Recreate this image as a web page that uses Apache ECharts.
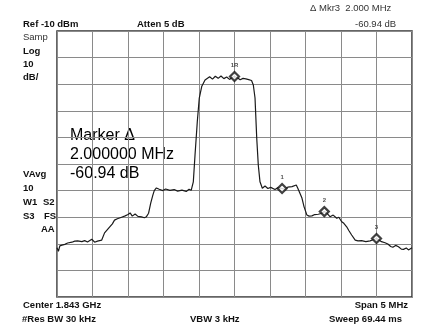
<!DOCTYPE html>
<html>
<head>
<meta charset="utf-8">
<script src="https://cdn.jsdelivr.net/npm/echarts@6/dist/echarts.min.js"></script>
<style>
  html, body { margin: 0; padding: 0; background: #fff; }
  #chart { width: 442px; height: 331px; }
</style>
</head>
<body>
<div id="chart"></div>
<script>
// trace: offset from centre 1.843 GHz (MHz) and level (dBm)
var freqOffset = [
  -2.50, -2.48, -2.46, -2.43, -2.39, -2.35, -2.29, -2.25, -2.21, -2.15,
  -2.11, -2.07, -2.01, -1.97, -1.93, -1.87, -1.83, -1.76, -1.72, -1.69,
  -1.65, -1.63, -1.59, -1.54, -1.50, -1.47, -1.44, -1.40, -1.36, -1.31,
  -1.27, -1.24, -1.21, -1.18, -1.15, -1.13, -1.10, -1.06, -1.01, -0.97,
  -0.91, -0.85, -0.80, -0.74, -0.68, -0.64, -0.61, -0.58, -0.556, -0.524,
  -0.496, -0.462, -0.415, -0.39, -0.35, -0.31, -0.27, -0.23, -0.19, -0.15,
  -0.11, -0.07, -0.03, 0.00, 0.04, 0.08, 0.12, 0.16, 0.20, 0.24,
  0.265, 0.289, 0.313, 0.335, 0.359, 0.392, 0.43, 0.47, 0.51, 0.57,
  0.61, 0.67, 0.71, 0.75, 0.81, 0.87, 0.89, 0.92, 0.95, 0.98,
  1.02, 1.05, 1.09, 1.13, 1.18, 1.22, 1.265, 1.30, 1.345, 1.39,
  1.44, 1.47, 1.51, 1.54, 1.58, 1.61, 1.65, 1.70, 1.74, 1.79,
  1.85, 1.91, 1.95, 2.00, 2.04, 2.07, 2.12, 2.16, 2.20, 2.23,
  2.27, 2.31, 2.35, 2.38, 2.42, 2.45, 2.47, 2.50
];
var levelDbm = [
  -91.5, -92.8, -90.8, -90.5, -90.2, -89.7, -89.4, -89.0, -88.9, -89.2,
  -88.8, -89.3, -88.3, -89.4, -89.0, -88.6, -85.9, -83.7, -82.5, -81.1,
  -80.6, -80.3, -80.0, -79.5, -79.0, -78.4, -79.6, -78.8, -79.7, -79.9,
  -80.2, -79.8, -78.5, -74.7, -71.7, -70.0, -69.0, -69.5, -70.0, -69.4,
  -69.9, -69.6, -70.2, -69.8, -70.3, -69.5, -69.9, -66.7, -56.6, -44.1,
  -35.2, -30.9, -28.4, -28.0, -27.2, -28.1, -27.0, -27.8, -26.9, -27.9,
  -27.3, -28.2, -27.4, -27.1, -27.6, -28.3, -27.8, -28.0, -28.3, -28.6,
  -30.3, -35.2, -50.2, -60.4, -66.7, -69.1, -68.3, -69.2, -68.8, -69.6,
  -68.9, -69.2, -69.5, -68.7, -68.5, -67.9, -69.0, -70.9, -72.8, -76.1,
  -79.2, -79.6, -79.5, -79.0, -78.9, -78.6, -77.9, -78.5, -79.8, -79.2,
  -80.4, -80.0, -81.7, -82.3, -83.6, -85.0, -86.7, -88.6, -88.9, -88.8,
  -89.2, -88.9, -88.5, -88.0, -88.7, -89.2, -89.6, -90.1, -91.0, -91.3,
  -90.6, -91.1, -92.0, -92.1, -91.6, -92.3, -91.8, -91.5
];

// markers
var markerNames = ['1R', '1', '2', '3'];
var markerFreq = [0.00, 0.67, 1.265, 2.00];
var markerLevel = [-27.1, -69.2, -77.9, -88.0];

var refLevel = -10;
var dbPerDiv = 10;

var traceData = [];
for (var i = 0; i < freqOffset.length; i++) {
  traceData.push([freqOffset[i], levelDbm[i]]);
}
var markerData = [];
for (var j = 0; j < markerNames.length; j++) {
  markerData.push({ name: markerNames[j], value: [markerFreq[j], markerLevel[j]] });
}

var bold = 'bold 9.5px "Liberation Sans", Arial, sans-serif';
var plain = '9.5px "Liberation Sans", Arial, sans-serif';
var big = '16px "Liberation Sans", Arial, sans-serif';

function txt(x, y, s, font, align, color) {
  return {
    type: 'text', x: x, y: y, silent: true,
    style: { text: s, font: font, fill: color || '#111', align: align || 'left', verticalAlign: 'top' }
  };
}

var myChart = echarts.init(document.getElementById('chart'));
var option = {
  backgroundColor: '#fff',
  animation: false,
  grid: {
    left: 57, right: 30, top: 31, bottom: 34,
    show: true, borderColor: '#333', borderWidth: 1.5, backgroundColor: 'transparent'
  },
  xAxis: {
    type: 'value', min: -2.5, max: 2.5, interval: 0.5,
    axisLine: { show: false }, axisTick: { show: false }, axisLabel: { show: false },
    splitLine: { show: true, lineStyle: { color: '#8a8a8a', width: 1 } }
  },
  yAxis: {
    type: 'value', min: refLevel - 10 * dbPerDiv, max: refLevel, interval: dbPerDiv,
    axisLine: { show: false }, axisTick: { show: false }, axisLabel: { show: false },
    splitLine: { show: true, lineStyle: { color: '#8a8a8a', width: 1 } }
  },
  series: [{
    type: 'line',
    data: traceData,
    showSymbol: false,
    lineStyle: { color: '#1a1a1a', width: 1.2 }
  }, {
    type: 'scatter',
    data: markerData,
    symbol: 'diamond',
    symbolSize: 9,
    itemStyle: { color: '#fff', borderColor: '#111', borderWidth: 2.2 },
    label: {
      show: true, position: 'top', distance: 3,
      formatter: function (p) { return p.name; },
      fontSize: 6, fontWeight: 'bold', color: '#222'
    },
    z: 5
  }],
  graphic: [
    txt(310, 3, '\u0394 Mkr3  2.000 MHz', plain, 'left', '#333'),
    txt(23, 19, 'Ref -10 dBm', bold),
    txt(137, 19, 'Atten 5 dB', bold),
    txt(355, 19, '-60.94 dB', plain, 'left', '#333'),
    txt(23, 32, 'Samp', plain, 'left', '#333'),
    txt(23, 46, 'Log', bold),
    txt(23, 59, '10', bold),
    txt(23, 72, 'dB/', bold),
    txt(23, 169, 'VAvg', bold),
    txt(23, 183, '10', bold),
    txt(23, 197, 'W1', bold),
    txt(43, 197, 'S2', bold),
    txt(23, 211, 'S3', bold),
    txt(44, 211, 'FS', bold),
    txt(41, 224, 'AA', bold),
    txt(70, 128, 'Marker \u0394', big, 'left', '#000'),
    txt(70, 147, '2.000000 MHz', big, 'left', '#000'),
    txt(70, 166, '-60.94 dB', big, 'left', '#000'),
    txt(23, 300, 'Center 1.843 GHz', bold),
    txt(408, 300, 'Span 5 MHz', bold, 'right'),
    txt(22, 314, '#Res BW 30 kHz', bold),
    txt(190, 314, 'VBW 3 kHz', bold),
    txt(402, 314, 'Sweep 69.44 ms', bold, 'right')
  ]
};
myChart.setOption(option);
</script>
</body>
</html>
